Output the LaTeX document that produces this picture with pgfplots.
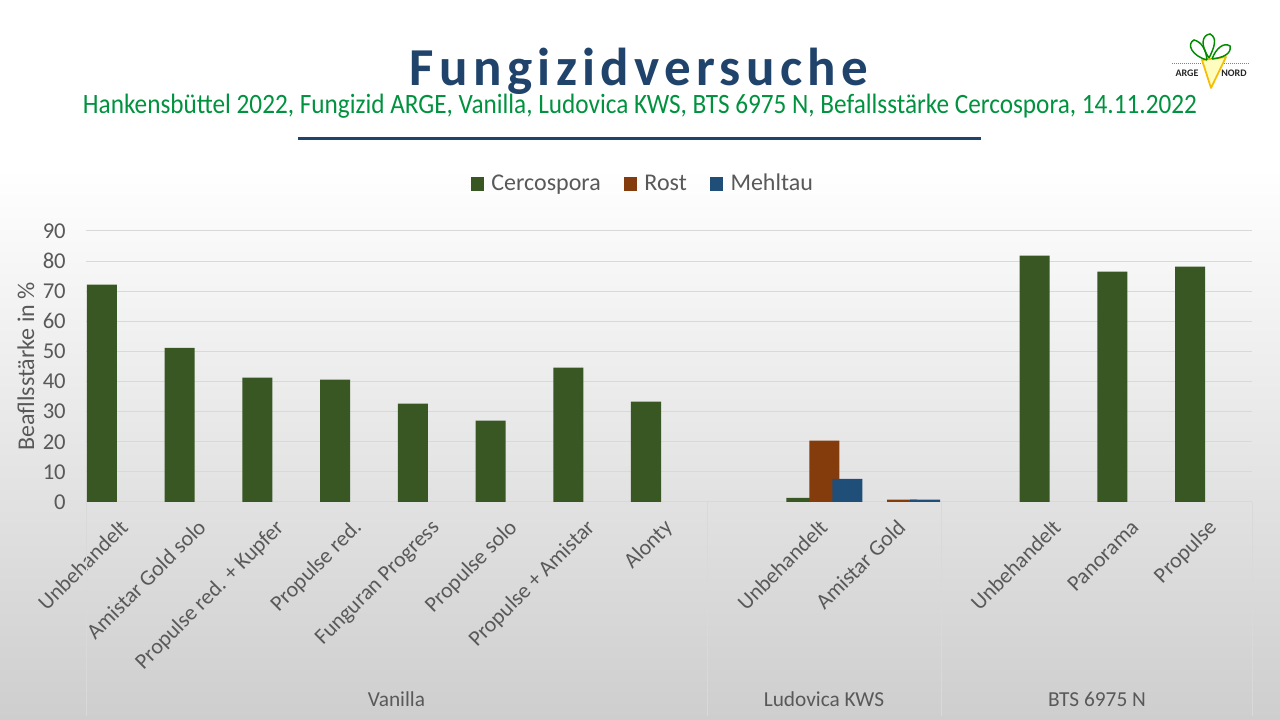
\documentclass[border=0pt]{standalone}
\usepackage{pgfplots}
\pgfplotsset{compat=1.18}
\usepackage{fontspec}
\setmainfont{Carlito}
\definecolor{cerco}{RGB}{56,87,35}
\definecolor{rost}{RGB}{132,60,12}
\definecolor{mehl}{RGB}{31,78,121}
\definecolor{txt}{RGB}{89,89,89}
\definecolor{gridgray}{RGB}{217,217,217}
\definecolor{titleblue}{RGB}{31,67,107}
\definecolor{subgreen}{RGB}{0,146,63}
\definecolor{bggray}{RGB}{206,206,206}
\definecolor{carrot}{RGB}{245,190,0}
\newsavebox\tbox
\begin{document}
\begin{tikzpicture}
\useasboundingbox (0,0) rectangle (960pt,540pt);
\fill[white] (0,0) rectangle (960pt,540pt);
\shade[top color=white, bottom color=bggray] (0,0) rectangle (960pt,415pt);

\begin{axis}[
  at={(64.5pt,163.5pt)}, anchor=south west,
  scale only axis, width=874.5pt, height=203.25pt,
  xmin=-0.5, xmax=14.5, ymin=0, ymax=90, enlargelimits=false,
  ybar, bar width=0.386,
  axis line style={draw=none},
  major tick length=0pt,
  ytick={0,10,...,90},
  ymajorgrids, grid style={gridgray, line width=0.75pt},
  /pgf/number format/assume math mode=true,
  yticklabel style={anchor=east, inner sep=0pt, xshift=-15pt, font=\fontsize{17}{20}\selectfont, text=txt},
  xtick={0,...,14},
  xticklabels={Unbehandelt, Amistar Gold solo, Propulse red. + Kupfer, Propulse red., Funguran Progress, Propulse solo, Propulse + Amistar, Alonty, {}, Unbehandelt, Amistar Gold, {}, Unbehandelt, Panorama, Propulse},
  xticklabel style={xshift=3.5pt, yshift=-20pt, rotate=45, anchor=base east, inner sep=0pt, font=\fontsize{16.5}{19}\selectfont, text=txt},
  legend image code/.code={\fill[#1] (0pt,-5.2pt) rectangle (9.75pt,4.9pt);},
  legend style={at={(0.478,1.175)}, anchor=center, legend columns=3, draw=none, fill=none,
    font=\fontsize{18}{20}\selectfont, text=txt,
    /tikz/every odd column/.append style={column sep=3.5pt},
    /tikz/every even column/.append style={column sep=15.5pt}},
  clip=false,
]
\addplot[fill=cerco, draw=none, bar shift=-0.296] coordinates {
  (0,72.2) (1,51.2) (2,41.3) (3,40.6) (4,32.7) (5,27.0) (6,44.6) (7,33.3)
  (9,1.4) (12,81.8) (13,76.5) (14,78.2)};
\addlegendentry{Cercospora}
\addplot[fill=rost, draw=none, bar shift=0] coordinates {(9,20.4) (10,0.75)};
\addlegendentry{Rost}
\addplot[fill=mehl, draw=none, bar shift=0.296] coordinates {(9,7.7) (10,0.75)};
\addlegendentry{Mehltau}
\end{axis}

\begin{scope}[x=0.75pt, y=-0.75pt, shift={(0pt,540pt)}]
  % category group separators
  \foreach \xx in {86,707,941,1252} {\draw[gridgray, line width=0.75pt] (\xx,502) -- (\xx,716);}
  \node[text=txt, font=\fontsize{16}{18}\selectfont] at (396.5,699) {Vanilla};
  \node[text=txt, font=\fontsize{16}{18}\selectfont] at (824,699) {Ludovica KWS};
  \node[text=txt, font=\fontsize{16}{18}\selectfont] at (1097,699) {BTS 6975 N};
  % y label
  \node[rotate=90, text=txt, font=\fontsize{18}{20}\selectfont] at (26,366.5) {Beafllsstärke in \%};
  % title
  \node[anchor=base, text=titleblue, inner sep=0pt] at (639,86)
    {\sbox\tbox{\fontsize{40}{44}\selectfont\bfseries\addfontfeatures{LetterSpace=10}Fungizidversuche}\resizebox{343.5pt}{\ht\tbox}{\usebox\tbox}};
  \node[anchor=base, text=subgreen, inner sep=0pt] at (640,114)
    {\sbox\tbox{\fontsize{21}{24}\selectfont Hankensbüttel 2022, Fungizid ARGE, Vanilla, Ludovica KWS, BTS 6975 N, Befallsstärke Cercospora, 14.11.2022}\resizebox{835.5pt}{\ht\tbox}{\usebox\tbox}};
  \draw[titleblue, line width=2.25pt] (298,139) -- (981,139);
  % logo
  \draw[rost!70, line width=0.6pt, dash pattern=on 1pt off 0.5pt] (1172,63) -- (1203,63);
  \draw[rost!70, line width=0.6pt, dash pattern=on 1pt off 0.5pt] (1222,63) -- (1249,63);
  \fill[yellow!25] (1202,60) -- (1226,57) -- (1211,88) -- cycle;
  \draw[carrot, line width=1.3pt, line join=round] (1202,60) -- (1226,57) -- (1211,88) -- cycle;
  \draw[green!55!black, line width=1.1pt] (1207,60) .. controls (1192,56) and (1186,44) .. (1194,40) .. controls (1202,42) and (1206,50) .. (1207,60);
  \draw[green!55!black, line width=1.1pt] (1209,58) .. controls (1200,45) and (1202,35) .. (1210,34) .. controls (1218,38) and (1214,48) .. (1209,58);
  \draw[green!55!black, line width=1.1pt] (1212,59) .. controls (1216,48) and (1224,42) .. (1230,46) .. controls (1232,54) and (1222,58) .. (1212,59);
  \node[font=\fontsize{7.5}{8}\selectfont\bfseries, text=black!85, inner sep=0pt] at (1187,73) {ARGE};
  \node[font=\fontsize{7.5}{8}\selectfont\bfseries, text=black!85, inner sep=0pt] at (1234,73) {NORD};
\end{scope}
\end{tikzpicture}
\end{document}
